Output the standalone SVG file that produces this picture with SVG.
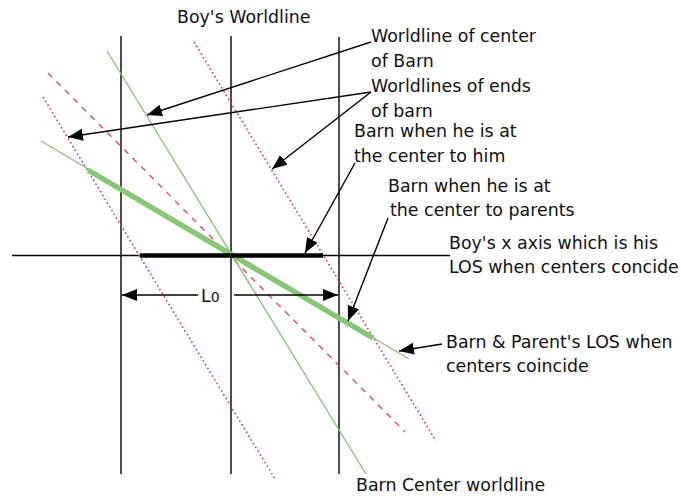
<svg xmlns="http://www.w3.org/2000/svg" width="681" height="498" viewBox="0 0 681 498">
<style>
.t{font-family:"DejaVu Sans","Liberation Sans",sans-serif;font-size:17.4px;fill:#111}
.blk{stroke:#000;stroke-width:1.4;fill:none}
.grn{stroke:#86c676;stroke-width:1.4;fill:none}
.grnT{stroke:#86c676;stroke-width:5.5;fill:none}
.dash{stroke:#e04a5a;stroke-width:1.4;stroke-dasharray:6 6;fill:none}
.dot{stroke:#e02e6a;stroke-width:1.6;stroke-dasharray:1.6 2.8;fill:none}
.arr{stroke:#000;stroke-width:1.4;fill:none;marker-end:url(#ah)}
</style>
<defs>
<marker id="ah" markerUnits="userSpaceOnUse" markerWidth="16" markerHeight="13" refX="15" refY="6" orient="auto">
<path d="M0,0 L15,6 L0,12 z" fill="#000"/>
</marker>
</defs>
<rect width="681" height="498" fill="#fff"/>
<g id="diagram-lines">
<line class="blk" x1="121" y1="36" x2="121" y2="474"/>
<line class="blk" x1="231" y1="36" x2="231" y2="474"/>
<line class="blk" x1="339" y1="37" x2="339" y2="474"/>
<line class="blk" x1="12" y1="255.5" x2="450" y2="255.5"/>
<line class="dash" x1="48" y1="73" x2="405" y2="432"/>
<line class="dot" x1="43" y1="97" x2="275" y2="479"/>
<line class="dot" x1="194" y1="42" x2="436" y2="441"/>
<line class="grn" x1="107" y1="51" x2="366" y2="474"/>
<line class="grn" x1="41" y1="141" x2="409" y2="359"/>
<line class="grnT" x1="88" y1="170" x2="373" y2="338"/>
<line stroke="#000" stroke-width="4.5" x1="140" y1="255.5" x2="323" y2="255.5"/>
</g>
<g id="connectors">
<line class="arr" x1="371" y1="42" x2="147" y2="115"/>
<line class="arr" x1="371" y1="92" x2="68" y2="137"/>
<line class="arr" x1="371" y1="92" x2="272" y2="169"/>
<line class="arr" x1="355" y1="163" x2="305" y2="253"/>
<line class="arr" x1="388" y1="218" x2="348" y2="321"/>
<line class="arr" x1="442" y1="344" x2="399" y2="351"/>
<line class="arr" x1="198" y1="295" x2="122" y2="295"/>
<line class="arr" x1="234" y1="295" x2="338" y2="295"/>
</g>
<g id="boy-worldline"><text class="t" x="177" y="23">Boy's Worldline</text></g>
<g id="center-worldline-label"><text class="t" x="371" y="42">Worldline of center</text><text class="t" x="371" y="67">of Barn</text></g>
<g id="ends-worldline-label"><text class="t" x="371" y="92">Worldlines of ends</text><text class="t" x="371" y="117">of barn</text></g>
<g id="barn-to-him"><text class="t" x="354" y="137">Barn when he is at</text><text class="t" x="354" y="162">the center to him</text></g>
<g id="barn-to-parents"><text class="t" x="388" y="192">Barn when he is at</text><text class="t" x="390" y="216">the center to parents</text></g>
<g id="boy-x-axis"><text class="t" x="449" y="249">Boy's x axis which is his</text><text class="t" x="449" y="273">LOS when centers concide</text></g>
<g id="parent-los"><text class="t" x="446" y="348">Barn &amp; Parent's LOS when</text><text class="t" x="446" y="372">centers coincide</text></g>
<g id="barn-center-worldline"><text class="t" x="356" y="491">Barn Center worldline</text></g>
<g id="length-label"><text class="t" x="201" y="302">L<tspan font-size="14">0</tspan></text></g>
</svg>
